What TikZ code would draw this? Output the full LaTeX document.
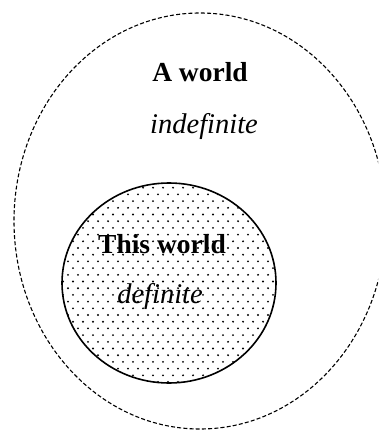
\documentclass[tikz,border=0pt]{standalone}
\usepackage{fontspec}
\setmainfont{Liberation Serif}
\usepackage{tikz}

\begin{document}
\begin{tikzpicture}[
    x=1pt, y=-1pt,
    every node/.style={font=\fontsize{27}{30}\selectfont},
    title/.style={font=\fontsize{27.5}{30}\selectfont\bfseries},
    sub/.style={font=\fontsize{28.5}{30}\selectfont\itshape},
    outerline/.style={draw, line width=1.1pt, dash pattern=on 4pt off 2.2pt},
    innerline/.style={draw, line width=1.6pt},
    dot/.style={fill=black},
]
\useasboundingbox (0,0) rectangle (378,430);

% outer world (dashed, runs past the right edge)
\begin{scope}
  \clip (0,0) rectangle (378,430);
  \draw[outerline] (200,221) ellipse [x radius=186, y radius=208];
\end{scope}

% inner world, dotted
\begin{scope}
  \clip (169,283) ellipse [x radius=107, y radius=100];
  \foreach \r in {0,...,31} {
    \foreach \c in {0,...,22} {
      \pgfmathsetmacro{\dx}{mod(\r,2)*5}
      \fill[dot] (58+\c*10+\dx, 181+\r*6.7) circle (1.05);
    }
  }
\end{scope}
\draw[innerline] (169,283) ellipse [x radius=107, y radius=100];

% labels
\node[title] (aworld)    at (200,72)  {A world};
\node[sub]   (indef)     at (204,127) {indefinite};
\node[title] (thisworld) at (162,244) {This world};
\node[sub]   (def)       at (160,296) {definite};

\end{tikzpicture}
\end{document}
